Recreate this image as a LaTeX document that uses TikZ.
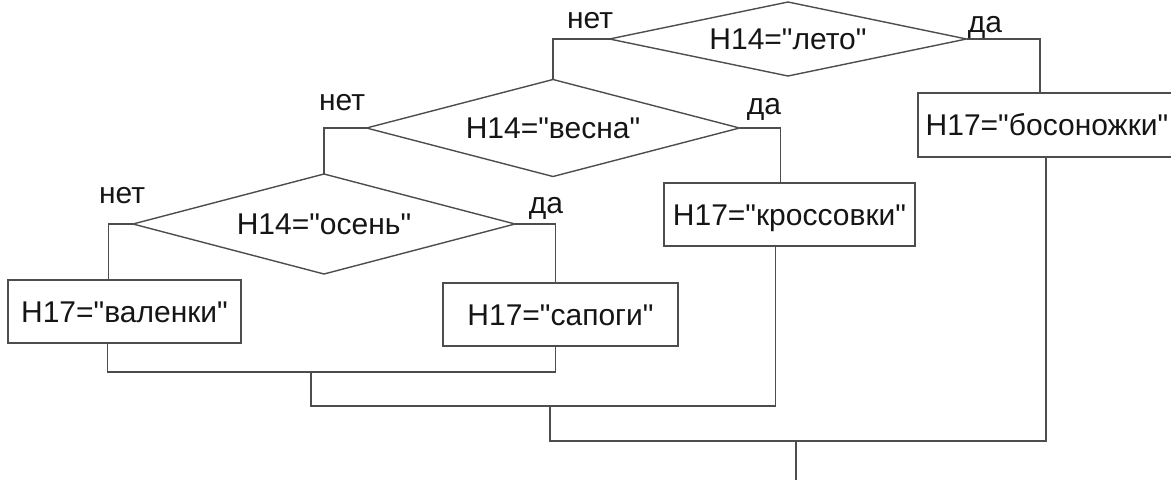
\documentclass[tikz,border=0pt]{standalone}
\usepackage{fontspec}
\setmainfont{Liberation Sans}[Ligatures=TeXOff]
\usetikzlibrary{shapes.geometric}

\definecolor{linegray}{HTML}{4D4D4D}
\definecolor{inkblack}{HTML}{151515}

\tikzset{
  every node/.style={font=\fontsize{30pt}{36pt}\selectfont, text=inkblack},
  decision/.style={draw=linegray, line width=1.4pt, shape=diamond, inner sep=0pt,
                   outer sep=0pt, text height=21.5pt, text depth=0pt},
  action/.style={draw=linegray, line width=1.4pt, rectangle, inner sep=0pt,
                 outer sep=0pt, text height=21.5pt, text depth=0pt},
  answer/.style={inner sep=0pt, anchor=base},
  flow/.style={draw=linegray, line width=1.4pt}
}

\begin{document}
\begin{tikzpicture}[x=1pt, y=-1pt]
  \useasboundingbox (0,0) rectangle (1171,483);

  % decisions
  \node[decision, aspect=4.82, minimum width=357pt, minimum height=74pt]  (d1) at (788,39)  {H14="лето"};
  \node[decision, aspect=3.85, minimum width=373pt, minimum height=97pt]  (d2) at (553,128) {H14="весна"};
  \node[decision, aspect=3.82, minimum width=382pt, minimum height=100pt] (d3) at (324,224) {H14="осень"};

  % assignments
  \node[action, minimum width=233pt, minimum height=63pt] (b1) at (124.5,311.5) {H17="валенки"};
  \node[action, minimum width=235pt, minimum height=63pt] (b2) at (560.5,314.5) {H17="сапоги"};
  \node[action, minimum width=251pt, minimum height=63pt] (b3) at (789.5,214.5) {H17="кроссовки"};
  \node[action, minimum width=258pt, minimum height=64pt] (b4) at (1047,125)    {H17="босоножки"};

  % branch labels
  \node[answer] (n1) at (590,28)  {нет};
  \node[answer] (y1) at (985,32)  {да};
  \node[answer] (n2) at (342,110) {нет};
  \node[answer] (y2) at (764,114) {да};
  \node[answer] (n3) at (122,203) {нет};
  \node[answer] (y3) at (546,213) {да};

  % join points
  \coordinate (j1) at (311,372);
  \coordinate (j2) at (550,406);
  \coordinate (j3) at (796,441);
  \coordinate (out) at (796,480);

  % branches
  \draw[flow] (d1.west) -| (d2.north);
  \draw[flow] (d1.east) -| ([xshift=-7pt]b4.north);
  \draw[flow] (d2.west) -| (d3.north);
  \draw[flow] (d2.east) -| ([xshift=-9pt]b3.north);
  \draw[flow] (d3.west) -| ([xshift=-16pt]b1.north);
  \draw[flow] (d3.east) -| ([xshift=-5pt]b2.north);

  % merges
  \draw[flow] ([xshift=-17pt]b1.south) |- (j1) -| ([xshift=-5pt]b2.south);
  \draw[flow] (j1) |- (j2) -| ([xshift=-14pt]b3.south);
  \draw[flow] (j2) |- (j3) -| ([xshift=-1pt]b4.south);
  \draw[flow] (j3) -- (out);
\end{tikzpicture}
\end{document}
